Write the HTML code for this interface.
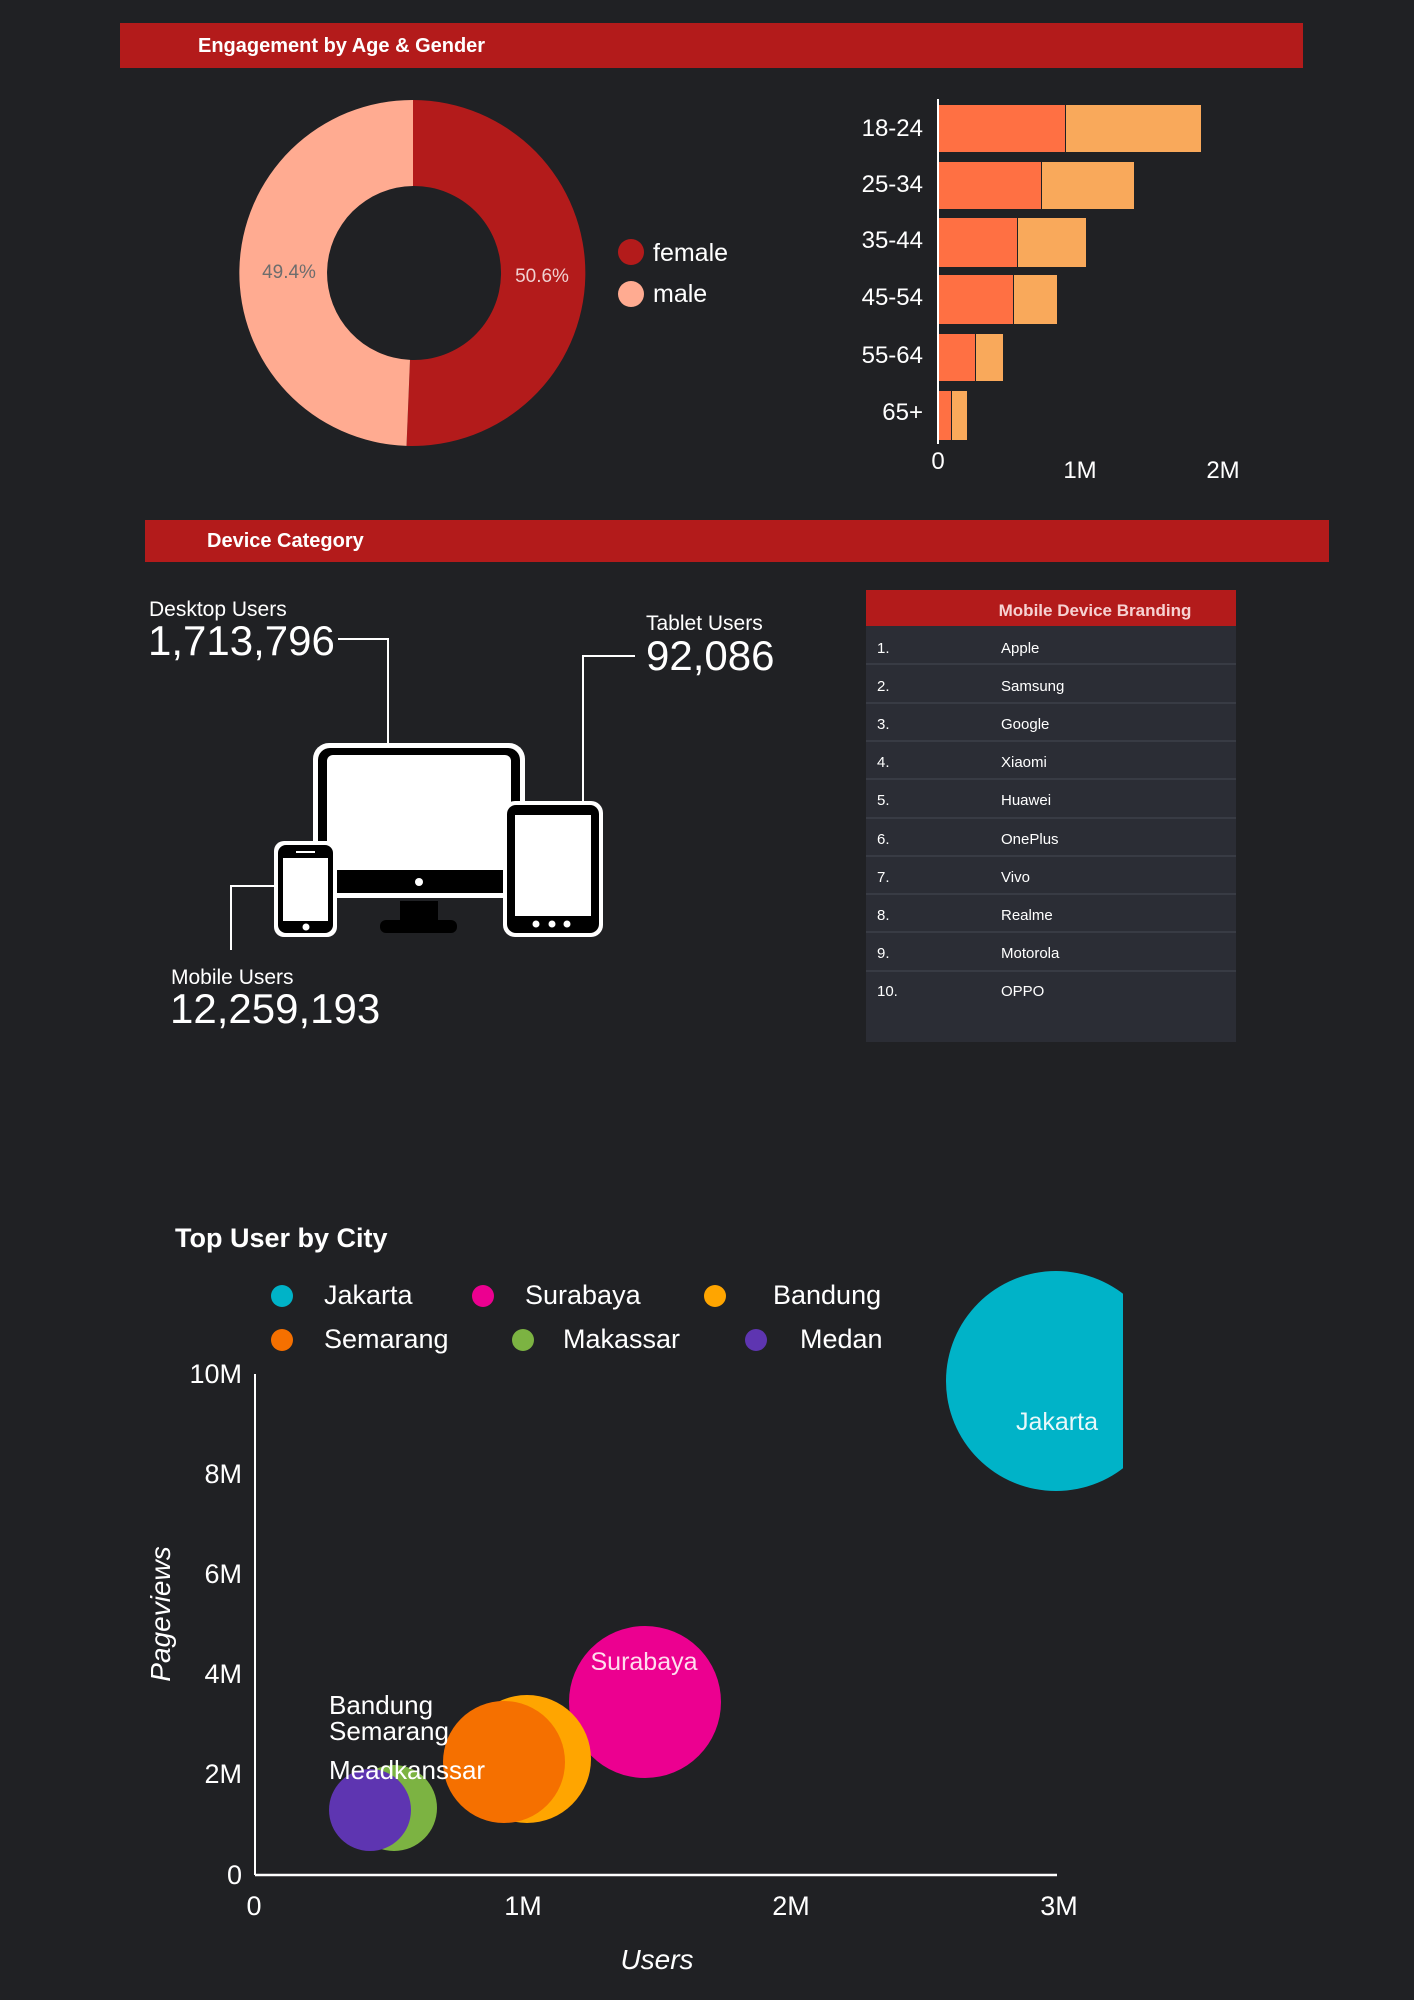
<!DOCTYPE html>
<html><head><meta charset="utf-8"><style>
html,body{margin:0;padding:0;background:#202124;}
svg{display:block;font-family:"Liberation Sans",sans-serif;}
</style></head><body>
<svg width="1414" height="2000" viewBox="0 0 1414 2000" xmlns="http://www.w3.org/2000/svg">
<rect width="1414" height="2000" fill="#202124"/>
<!-- Header 1 -->
<rect x="120" y="23" width="1183" height="45" fill="#b31b1b"/>
<text x="198" y="52" font-size="20" font-weight="bold" fill="#fff">Engagement by Age &amp; Gender</text>
<!-- Donut -->
<path d="M413,100 A173,173 0 1 1 406.5,445.9 L410,359.9 A87,87 0 1 0 413,186 Z" fill="#b31b1b"/>
<path d="M406.5,445.9 A173,173 0 0 1 413,100 L413,186 A87,87 0 0 0 410,359.9 Z" fill="#ffab91"/>
<text x="289" y="278" font-size="19" fill="#6d6d6d" text-anchor="middle">49.4%</text>
<text x="542" y="282" font-size="19" fill="#f0d0d0" text-anchor="middle">50.6%</text>
<circle cx="631" cy="252" r="13" fill="#b31b1b"/>
<text x="653" y="261" font-size="25" fill="#fff">female</text>
<circle cx="631" cy="294" r="13" fill="#ffab91"/>
<text x="653" y="302" font-size="25" fill="#fff">male</text>
<!-- Bar chart -->
<g fill="#ff7043">
<rect x="938" y="105" width="127" height="47"/><rect x="938" y="162" width="103" height="47"/>
<rect x="938" y="218" width="79" height="49"/><rect x="938" y="275" width="75" height="49"/>
<rect x="938" y="334" width="37" height="47"/><rect x="938" y="391" width="13" height="49"/>
</g>
<g fill="#f9a95b">
<rect x="1066" y="105" width="135" height="47"/><rect x="1042" y="162" width="92" height="47"/>
<rect x="1018" y="218" width="68" height="49"/><rect x="1014" y="275" width="43" height="49"/>
<rect x="976" y="334" width="27" height="47"/><rect x="952" y="391" width="15" height="49"/>
</g>
<line x1="938" y1="99" x2="938" y2="444" stroke="#fff" stroke-width="2"/>
<g font-size="24" fill="#fff" text-anchor="end">
<text x="923" y="136">18-24</text><text x="923" y="192">25-34</text><text x="923" y="248">35-44</text>
<text x="923" y="305">45-54</text><text x="923" y="363">55-64</text><text x="923" y="420">65+</text>
</g>
<g font-size="24" fill="#fff" text-anchor="middle">
<text x="938" y="469">0</text><text x="1080" y="478">1M</text><text x="1223" y="478">2M</text>
</g>
<!-- Header 2 -->
<rect x="145" y="520" width="1184" height="42" fill="#b31b1b"/>
<text x="207" y="547" font-size="20" font-weight="bold" fill="#fff">Device Category</text>
<!-- Device numbers -->
<text x="149" y="616" font-size="21" fill="#fff">Desktop Users</text>
<text x="148" y="655" font-size="42" fill="#fff">1,713,796</text>
<text x="646" y="630" font-size="21" fill="#fff">Tablet Users</text>
<text x="646" y="670" font-size="42" fill="#fff">92,086</text>
<text x="171" y="984" font-size="21" fill="#fff">Mobile Users</text>
<text x="170" y="1023" font-size="42" fill="#fff">12,259,193</text>
<g stroke="#fff" stroke-width="2" fill="none">
<polyline points="338,639 388,639 388,743"/>
<polyline points="635,656 583,656 583,803"/>
<polyline points="231,950 231,886 274,886"/>
</g>
<!-- Monitor -->
<rect x="313" y="743" width="212" height="155" rx="16" fill="#fff"/>
<rect x="318" y="748" width="202" height="145" rx="12" fill="#000"/>
<rect x="327" y="755" width="184" height="115" rx="6" fill="#fff"/>
<circle cx="419" cy="882" r="4" fill="#fff"/>
<rect x="400" y="901" width="38" height="20" fill="#000"/>
<rect x="380" y="920" width="77" height="13" rx="6" fill="#000"/>
<!-- Tablet -->
<rect x="503" y="801" width="100" height="136" rx="12" fill="#fff"/>
<rect x="507" y="805" width="92" height="128" rx="9" fill="#000"/>
<rect x="515" y="815" width="76" height="101" fill="#fff"/>
<circle cx="536" cy="924" r="3.5" fill="#fff"/><circle cx="552" cy="924" r="3.5" fill="#fff"/><circle cx="567" cy="924" r="3.5" fill="#fff"/>
<!-- Phone -->
<rect x="274" y="841" width="63" height="96" rx="10" fill="#fff"/>
<rect x="278" y="845" width="55" height="88" rx="8" fill="#000"/>
<rect x="283" y="858" width="45" height="63" fill="#fff"/>
<rect x="296" y="851" width="19" height="2" fill="#fff"/>
<circle cx="306" cy="927" r="3.5" fill="#fff"/>
<!-- Table -->
<rect x="866" y="590" width="370" height="452" fill="#2b2d35"/>
<rect x="866" y="590" width="370" height="36" fill="#b31b1b"/>
<text x="1095" y="616" font-size="17" font-weight="bold" fill="#f6d2d2" text-anchor="middle">Mobile Device Branding</text>
<g stroke="#3d4049" stroke-width="1.5">
<line x1="866" y1="664" x2="1236" y2="664"/><line x1="866" y1="703" x2="1236" y2="703"/>
<line x1="866" y1="741" x2="1236" y2="741"/><line x1="866" y1="779" x2="1236" y2="779"/>
<line x1="866" y1="818" x2="1236" y2="818"/><line x1="866" y1="856" x2="1236" y2="856"/>
<line x1="866" y1="894" x2="1236" y2="894"/><line x1="866" y1="932" x2="1236" y2="932"/>
<line x1="866" y1="971" x2="1236" y2="971"/>
</g>
<g font-size="15" fill="#fff">
<text x="877" y="653">1.</text><text x="1001" y="653">Apple</text>
<text x="877" y="691">2.</text><text x="1001" y="691">Samsung</text>
<text x="877" y="729">3.</text><text x="1001" y="729">Google</text>
<text x="877" y="767">4.</text><text x="1001" y="767">Xiaomi</text>
<text x="877" y="805">5.</text><text x="1001" y="805">Huawei</text>
<text x="877" y="844">6.</text><text x="1001" y="844">OnePlus</text>
<text x="877" y="882">7.</text><text x="1001" y="882">Vivo</text>
<text x="877" y="920">8.</text><text x="1001" y="920">Realme</text>
<text x="877" y="958">9.</text><text x="1001" y="958">Motorola</text>
<text x="877" y="996">10.</text><text x="1001" y="996">OPPO</text>
</g>
<!-- Bubble chart -->
<text x="175" y="1247" font-size="27" font-weight="bold" fill="#fff">Top User by City</text>
<g font-size="27" fill="#fff">
<circle cx="282" cy="1296" r="11" fill="#00b3c8"/><text x="324" y="1304">Jakarta</text>
<circle cx="483" cy="1296" r="11" fill="#ec0090"/><text x="525" y="1304">Surabaya</text>
<circle cx="715" cy="1296" r="11" fill="#ffa500"/><text x="773" y="1304">Bandung</text>
<circle cx="282" cy="1340" r="11" fill="#f57000"/><text x="324" y="1348">Semarang</text>
<circle cx="523" cy="1340" r="11" fill="#7cb342"/><text x="563" y="1348">Makassar</text>
<circle cx="756" cy="1340" r="11" fill="#5e35b1"/><text x="800" y="1348">Medan</text>
</g>
<defs><clipPath id="pc"><rect x="0" y="1200" width="1123" height="800"/></clipPath></defs>
<g clip-path="url(#pc)">
<circle cx="1056" cy="1381" r="110" fill="#00b3c8"/>
</g>
<circle cx="645" cy="1702" r="76" fill="#ec0090"/>
<circle cx="527" cy="1759" r="64" fill="#ffa500"/>
<circle cx="504" cy="1762" r="61" fill="#f57000"/>
<circle cx="394" cy="1808" r="43" fill="#7cb342"/>
<circle cx="370" cy="1810" r="41" fill="#5e35b1"/>
<text x="1057" y="1430" font-size="25" fill="#e8f8fa" text-anchor="middle">Jakarta</text>
<text x="644" y="1670" font-size="25" fill="#fde" text-anchor="middle">Surabaya</text>
<g font-size="26" fill="#fff">
<text x="329" y="1714">Bandung</text><text x="329" y="1740">Semarang</text><text x="329" y="1779">Meadkanssar</text>
</g>
<line x1="255" y1="1374" x2="255" y2="1875" stroke="#fff" stroke-width="2"/>
<line x1="255" y1="1875" x2="1057" y2="1875" stroke="#fff" stroke-width="2.5"/>
<g font-size="27" fill="#fff" text-anchor="end">
<text x="242" y="1383">10M</text><text x="242" y="1483">8M</text><text x="242" y="1583">6M</text>
<text x="242" y="1683">4M</text><text x="242" y="1783">2M</text><text x="242" y="1884">0</text>
</g>
<g font-size="27" fill="#fff" text-anchor="middle">
<text x="254" y="1915">0</text><text x="523" y="1915">1M</text><text x="791" y="1915">2M</text><text x="1059" y="1915">3M</text>
</g>
<text x="657" y="1969" font-size="28" font-style="italic" fill="#fff" text-anchor="middle">Users</text>
<text transform="translate(170,1614) rotate(-90)" font-size="28" font-style="italic" fill="#fff" text-anchor="middle">Pageviews</text>
</svg>
</body></html>
